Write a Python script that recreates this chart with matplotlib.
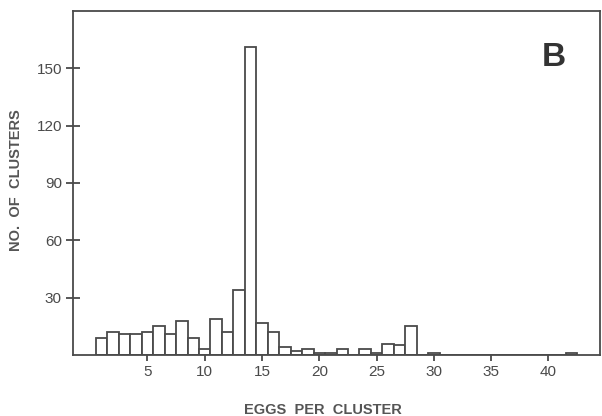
import matplotlib.pyplot as plt
import numpy as np

# eggs per cluster (bin centres) and number of clusters
eggs = np.arange(1, 43)
clusters = [9, 12, 11, 11, 12, 15, 11, 18, 9, 3,
            19, 12, 34, 161, 17, 12, 4, 2, 3, 1,
            1, 3, 0, 3, 1, 6, 5, 15, 0, 1,
            0, 0, 0, 0, 0, 0, 0, 0, 0, 0,
            0, 1]
xticks = [5, 10, 15, 20, 25, 30, 35, 40]
yticks = [30, 60, 90, 120, 150]

ink = '#4a4a4a'
plt.rcParams['font.family'] = ['Liberation Sans', 'DejaVu Sans']

fig = plt.figure(figsize=(6.02, 4.16), dpi=100)
ax = fig.add_axes([0.1213, 0.1466, 0.8754, 0.8270])

ax.bar(eggs, clusters, width=1.0, facecolor='white', edgecolor=ink, linewidth=1.3)

ax.set_xlim(-1.5, 44.5)
ax.set_ylim(0, 180)
ax.set_xticks(xticks)
ax.set_yticks(yticks)
ax.tick_params(axis='y', direction='inout', length=10, width=1.3, colors=ink,
               labelsize=11, pad=3)
ax.tick_params(axis='x', direction='out', length=4, width=1.3, colors=ink,
               labelsize=11, pad=3)
for s in ax.spines.values():
    s.set_color(ink)
    s.set_linewidth(1.3)

ax.set_xlabel('EGGS  PER  CLUSTER', fontsize=10.5, color='#555555',
              fontweight='bold')
ax.set_ylabel('NO.  OF  CLUSTERS', fontsize=10.5, color='#555555',
              fontweight='bold')
ax.xaxis.set_label_coords(0.474, -0.14)
ax.yaxis.set_label_coords(-0.095, 0.509)
ax.text(0.913, 0.866, 'B', transform=ax.transAxes, fontsize=24, color='#333333',
        fontweight='bold', ha='center', va='center')

fig.savefig('out.png', dpi=100)
